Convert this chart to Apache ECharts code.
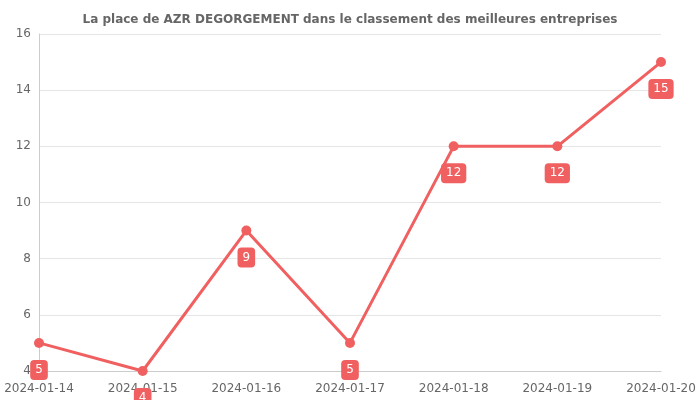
<!DOCTYPE html>
<html>
<head>
<meta charset="utf-8">
<script src="https://cdn.jsdelivr.net/npm/echarts@6/dist/echarts.min.js"></script>
<style>html,body{margin:0;padding:0;background:#fff}#main{width:700px;height:400px}</style>
</head>
<body>
<div id="main"></div>
<script>
var dates = ['2024-01-14', '2024-01-15', '2024-01-16', '2024-01-17', '2024-01-18', '2024-01-19', '2024-01-20'];
var places = [5, 4, 9, 5, 12, 12, 15];
var titleText = 'La place de AZR DEGORGEMENT dans le classement des meilleures entreprises';

var chart = echarts.init(document.getElementById('main'));
var option = {
    backgroundColor: '#fff',
    textStyle: { fontFamily: 'DejaVu Sans' },
    title: {
        text: titleText,
        left: 'center',
        top: 9,
        textStyle: { fontSize: 12, fontWeight: 'bold', color: '#666', fontFamily: 'DejaVu Sans' }
    },
    grid: { left: 39, right: 39, top: 34, bottom: 29 },
    xAxis: {
        type: 'category',
        boundaryGap: false,
        data: dates,
        axisLine: { lineStyle: { color: '#ccc' } },
        axisTick: { show: false },
        axisLabel: { color: '#666', fontSize: 12, interval: 0, margin: 12 }
    },
    yAxis: {
        type: 'value',
        min: 4,
        max: 16,
        interval: 2,
        axisLine: { show: true, lineStyle: { color: '#ccc' } },
        splitLine: { lineStyle: { color: '#e6e6e6' } },
        axisLabel: { color: '#666', fontSize: 12 }
    },
    series: [{
        type: 'line',
        data: places,
        symbol: 'circle',
        symbolSize: 10,
        itemStyle: { color: '#f06060' },
        lineStyle: { width: 3, color: '#f06060' },
        label: {
            show: true,
            position: 'bottom',
            distance: 12,
            color: '#fff',
            fontSize: 12,
            backgroundColor: '#f06060',
            borderRadius: 4,
            padding: [4, 5]
        }
    }]
};
chart.setOption(option);
</script>
</body>
</html>
